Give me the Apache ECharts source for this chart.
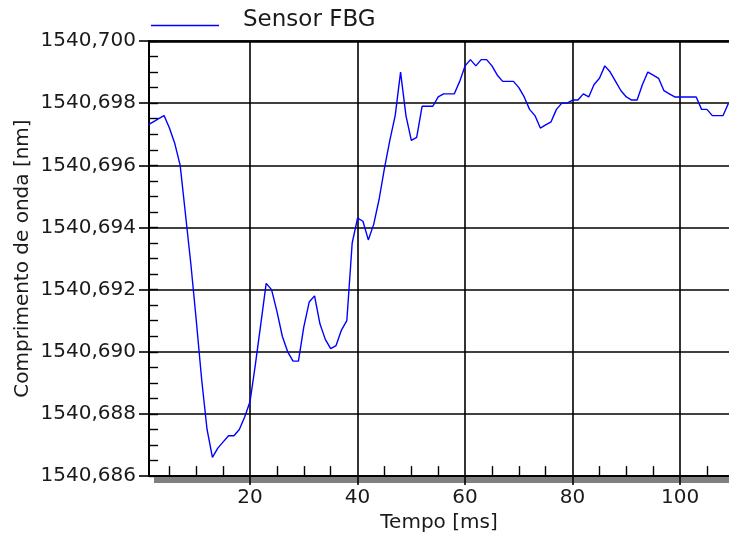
<!DOCTYPE html>
<html>
<head>
<meta charset="utf-8">
<script src="https://cdn.jsdelivr.net/npm/echarts@6/dist/echarts.min.js"></script>
<style>
html,body{margin:0;padding:0;background:#fff;}
#chart{width:729px;height:538px;}
</style>
</head>
<body>
<div id="chart"></div>
<script>
// ---- data ----
const seriesName = 'Sensor FBG';
const tempo = [
  1,2,3,4,5,6,7,8,9,10,11,12,13,14,15,16,17,18,19,20,
  21,22,23,24,25,26,27,28,29,30,31,32,33,34,35,36,37,38,39,40,
  41,42,43,44,45,46,47,48,49,50,51,52,53,54,55,56,57,58,59,60,
  61,62,63,64,65,66,67,68,69,70,71,72,73,74,75,76,77,78,79,80,
  81,82,83,84,85,86,87,88,89,90,91,92,93,94,95,96,97,98,99,100,
  101,102,103,104,105,106,107,108,109
];
const comprimento = [
  1540.6973,1540.6974,1540.6975,1540.6976,1540.6972,1540.6967,1540.6960,1540.6944,1540.6928,1540.6910,
  1540.6891,1540.6875,1540.6866,1540.6869,1540.6871,1540.6873,1540.6873,1540.6875,1540.6879,1540.6884,
  1540.6896,1540.6909,1540.6922,1540.6920,1540.6913,1540.6905,1540.6900,1540.6897,1540.6897,1540.6908,
  1540.6916,1540.6918,1540.6909,1540.6904,1540.6901,1540.6902,1540.6907,1540.6910,1540.6935,1540.6943,
  1540.6942,1540.6936,1540.6941,1540.6949,1540.6959,1540.6968,1540.6976,1540.6990,1540.6976,1540.6968,
  1540.6969,1540.6979,1540.6979,1540.6979,1540.6982,1540.6983,1540.6983,1540.6983,1540.6987,1540.6992,
  1540.6994,1540.6992,1540.6994,1540.6994,1540.6992,1540.6989,1540.6987,1540.6987,1540.6987,1540.6985,
  1540.6982,1540.6978,1540.6976,1540.6972,1540.6973,1540.6974,1540.6978,1540.6980,1540.6980,1540.6981,
  1540.6981,1540.6983,1540.6982,1540.6986,1540.6988,1540.6992,1540.6990,1540.6987,1540.6984,1540.6982,
  1540.6981,1540.6981,1540.6986,1540.6990,1540.6989,1540.6988,1540.6984,1540.6983,1540.6982,1540.6982,
  1540.6982,1540.6982,1540.6982,1540.6978,1540.6978,1540.6976,1540.6976,1540.6976,1540.6980
];
const xMajorTicks = [20, 40, 60, 80, 100];
const xMinorTicks = [5, 10, 15, 25, 30, 35, 45, 50, 55, 65, 70, 75, 85, 90, 95, 105];
const xRange = [1.2, 109.1];
const yRange = [1540.686, 1540.700];
const yMajorStep = 0.002;
const yMinorStep = 0.0005;

// ---- chart ----
const FONT = 'DejaVu Sans';
const TXT = '#1a1a1a';
const points = tempo.map((t, i) => [t, comprimento[i]]);
// legend glyph: a short line drawn at the bottom of its box (a hairline keeps the box height)
const legendIcon = 'path://M0,0L68,0L68,0.01L0,0.01Z M0,10L68,10L68,11.6L0,11.6Z';

const chart = echarts.init(document.getElementById('chart'), null, {renderer: 'canvas'});
chart.setOption({
  animation: false,
  backgroundColor: '#fff',
  textStyle: {fontFamily: FONT},
  legend: {
    left: 146, top: 4,
    icon: legendIcon,
    itemWidth: 68, itemHeight: 11.6,
    itemStyle: {color: '#0000ff', borderWidth: 0},
    textStyle: {fontFamily: FONT, fontSize: 23, color: TXT, padding: [0, 0, 0, 19]},
    data: [seriesName]
  },
  grid: {left: 149, right: 0, top: 41, bottom: 60, containLabel: false},
  xAxis: [
    {
      type: 'value', min: xRange[0], max: xRange[1], position: 'bottom',
      name: 'Tempo [ms]', nameLocation: 'middle', nameGap: 35,
      nameTextStyle: {fontFamily: FONT, fontSize: 20, color: TXT},
      axisLine: {show: true, onZero: false, lineStyle: {color: '#000', width: 2}},
      axisTick: {show: true, customValues: xMajorTicks, inside: false, length: 9, lineStyle: {color: '#000', width: 1.6}},
      axisLabel: {customValues: xMajorTicks, margin: 12, fontFamily: FONT, fontSize: 20, color: TXT},
      splitLine: {show: true, lineStyle: {color: '#000', width: 1.6}},
      z: 5
    },
    {
      type: 'value', min: xRange[0], max: xRange[1], position: 'bottom',
      axisLine: {show: false, onZero: false},
      axisTick: {show: true, customValues: xMinorTicks, inside: true, length: 10, lineStyle: {color: '#000', width: 1.4}},
      axisLabel: {show: false},
      splitLine: {show: false}
    },
    {
      type: 'value', min: xRange[0], max: xRange[1], position: 'bottom', offset: 4,
      axisLine: {show: true, onZero: false, lineStyle: {color: '#808080', width: 6, cap: 'butt', type: [0, 5, 100000]}},
      axisTick: {show: false}, axisLabel: {show: false}, splitLine: {show: false},
      z: 1
    },
    {
      type: 'value', min: xRange[0], max: xRange[1], position: 'top',
      axisLine: {show: true, onZero: false, lineStyle: {color: '#000', width: 2.5}},
      axisTick: {show: false}, axisLabel: {show: false}, splitLine: {show: false}
    }
  ],
  yAxis: [
    {
      type: 'value', min: yRange[0], max: yRange[1], interval: yMajorStep, position: 'left',
      name: 'Comprimento de onda [nm]', nameLocation: 'middle', nameGap: 116,
      nameMoveOverlap: false,
      nameTextStyle: {fontFamily: FONT, fontSize: 20, color: TXT},
      axisLine: {show: true, onZero: false, lineStyle: {color: '#000', width: 2}},
      axisTick: {show: true, inside: false, length: 10, lineStyle: {color: '#000', width: 1.6}},
      axisLabel: {
        margin: 13, fontFamily: FONT, fontSize: 20, color: TXT,
        formatter: v => v.toFixed(3).replace('.', ',')
      },
      splitLine: {show: true, lineStyle: {color: '#000', width: 1.6}},
      z: 5
    },
    {
      type: 'value', min: yRange[0], max: yRange[1], interval: yMinorStep, position: 'left',
      axisLine: {show: false, onZero: false},
      axisTick: {show: true, inside: true, length: 9, lineStyle: {color: '#000', width: 1.4}},
      axisLabel: {show: false},
      splitLine: {show: false}
    }
  ],
  series: [{
    name: seriesName,
    type: 'line',
    xAxisIndex: 0, yAxisIndex: 0,
    data: points,
    symbol: 'none',
    showSymbol: false,
    clip: true,
    lineStyle: {color: '#0000ff', width: 1.4},
    itemStyle: {color: '#0000ff'},
    z: 10
  }]
});
</script>
</body>
</html>
